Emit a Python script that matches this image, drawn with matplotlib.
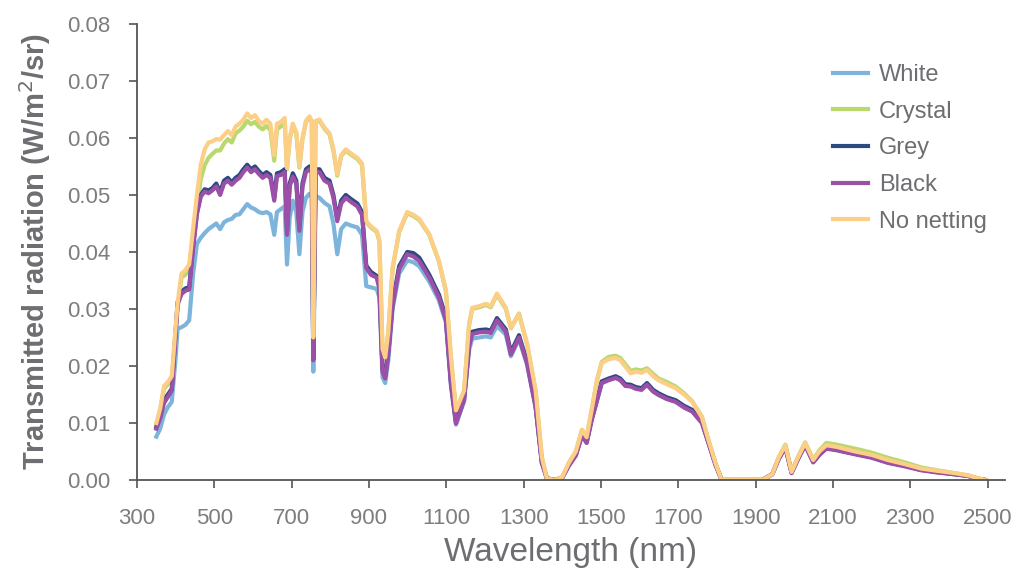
import matplotlib
matplotlib.use("Agg")
import matplotlib.pyplot as plt

# wavelength grid (nm) shared by all series
wl = [350, 360, 370, 380, 390, 400, 405, 415, 425, 435, 445, 455, 465, 475, 485, 495,
      505, 515, 525, 535, 545, 555, 565, 575, 585, 595, 605, 615, 625, 635, 645, 655,
      662, 672, 682, 688, 695, 703, 712, 720, 728, 737, 746, 752, 756, 762, 772, 785,
      798, 808, 818, 828, 840, 855, 870, 882, 893, 905, 920, 927, 935, 942, 950, 961,
      978, 999, 1015, 1030, 1056, 1081, 1099, 1112, 1125, 1146, 1159, 1167, 1185, 1203,
      1215, 1231, 1254, 1267, 1288, 1309, 1331, 1347, 1360, 1380, 1400, 1417, 1435, 1451,
      1463, 1476, 1490, 1502, 1520, 1538, 1550, 1563, 1577, 1590, 1605, 1619, 1635, 1649,
      1670, 1693, 1715, 1736, 1761, 1778, 1796, 1812, 1900, 1917, 1943, 1960, 1977, 1993,
      2010, 2028, 2049, 2065, 2083, 2110, 2157, 2200, 2242, 2285, 2328, 2370, 2415, 2450,
      2475, 2495]

no_netting = [.0100, .0125, .0165, .0172, .0182, .0270, .0310, .0362, .0368, .0378, .0440, .0500,
              .0553, .0580, .0592, .0594, .0598, .0597, .0605, .0612, .0605, .0620, .0625, .0632,
              .0643, .0635, .0640, .0630, .0625, .0632, .0625, .0570, .0625, .0628, .0635, .0547,
              .0600, .0625, .0610, .0550, .0600, .0630, .0638, .0630, .0250, .0630, .0632, .0618,
              .0608, .0580, .0536, .0570, .0580, .0572, .0565, .0555, .0454, .0445, .0437, .0420,
              .0230, .0215, .0260, .0372, .0437, .0470, .0465, .0458, .0431, .0384, .0332, .0215,
              .0122, .0157, .0274, .0302, .0305, .0309, .0305, .0327, .0302, .0267, .0291, .0239,
              .0157, .0040, .0003, .0000, .0005, .0030, .0050, .0088, .0075, .0123, .0175, .0205,
              .0212, .0214, .0210, .0199, .0187, .0190, .0188, .0193, .0182, .0175, .0168, .0161,
              .0150, .0137, .0110, .0070, .0030, .0000, .0000, .0000, .0010, .0040, .0061, .0014,
              .0040, .0065, .0035, .0050, .0061, .0058, .0050, .0044, .0035, .0028, .0020, .0016,
              .0012, .0008, .0003, .0000]

crystal = [.0098, .0122, .0160, .0168, .0178, .0262, .0300, .0355, .0360, .0370, .0430, .0478,
           .0528, .0552, .0565, .0572, .0578, .0578, .0590, .0598, .0592, .0608, .0613, .0620,
           .0630, .0624, .0628, .0620, .0615, .0621, .0614, .0560, .0615, .0620, .0628, .0545,
           .0598, .0622, .0608, .0548, .0598, .0628, .0636, .0628, .0248, .0628, .0630, .0616,
           .0606, .0578, .0534, .0568, .0578, .0570, .0563, .0553, .0452, .0443, .0435, .0418,
           .0228, .0213, .0258, .0370, .0435, .0468, .0463, .0456, .0430, .0383, .0331, .0214,
           .0121, .0156, .0272, .0300, .0303, .0307, .0303, .0325, .0300, .0266, .0292, .0238,
           .0156, .0040, .0003, .0000, .0005, .0030, .0050, .0088, .0075, .0123, .0176, .0207,
           .0216, .0218, .0214, .0203, .0191, .0194, .0192, .0196, .0186, .0178, .0172, .0164,
           .0152, .0138, .0111, .0070, .0030, .0000, .0000, .0000, .0010, .0040, .0062, .0015,
           .0041, .0066, .0036, .0052, .0065, .0062, .0055, .0048, .0039, .0031, .0022, .0017,
           .0012, .0008, .0003, .0000]

grey = [.0093, .0112, .0140, .0150, .0160, .0260, .0312, .0330, .0336, .0338, .0410, .0470,
        .0500, .0510, .0508, .0512, .0520, .0505, .0525, .0530, .0522, .0530, .0535, .0545,
        .0553, .0545, .0550, .0542, .0535, .0540, .0535, .0495, .0538, .0540, .0545, .0435,
        .0520, .0538, .0525, .0442, .0520, .0545, .0550, .0545, .0212, .0545, .0545, .0530,
        .0525, .0500, .0458, .0490, .0500, .0492, .0485, .0470, .0376, .0365, .0358, .0340,
        .0195, .0182, .0225, .0310, .0375, .0400, .0398, .0390, .0360, .0325, .0285, .0172,
        .0102, .0143, .0238, .0260, .0263, .0264, .0262, .0284, .0264, .0224, .0254, .0207,
        .0131, .0032, .0003, .0000, .0004, .0027, .0045, .0080, .0067, .0108, .0143, .0173,
        .0178, .0182, .0178, .0168, .0167, .0163, .0161, .0170, .0158, .0152, .0145, .0140,
        .0130, .0123, .0103, .0066, .0028, .0000, .0000, .0000, .0010, .0038, .0058, .0013,
        .0038, .0062, .0032, .0045, .0056, .0053, .0046, .0040, .0031, .0025, .0018, .0014,
        .0010, .0007, .0002, .0000]

black = [.0090, .0108, .0135, .0146, .0157, .0255, .0308, .0326, .0332, .0334, .0405, .0466,
         .0497, .0506, .0503, .0508, .0515, .0500, .0520, .0525, .0518, .0525, .0530, .0540,
         .0548, .0540, .0545, .0537, .0530, .0535, .0530, .0490, .0533, .0535, .0540, .0430,
         .0515, .0532, .0520, .0437, .0515, .0540, .0545, .0540, .0210, .0540, .0540, .0525,
         .0520, .0495, .0454, .0485, .0495, .0487, .0480, .0465, .0372, .0360, .0355, .0335,
         .0190, .0178, .0220, .0305, .0370, .0396, .0392, .0384, .0355, .0320, .0280, .0168,
         .0099, .0140, .0235, .0256, .0259, .0260, .0258, .0280, .0260, .0220, .0250, .0204,
         .0128, .0030, .0003, .0000, .0004, .0025, .0043, .0078, .0065, .0105, .0140, .0170,
         .0175, .0179, .0175, .0165, .0164, .0160, .0158, .0167, .0155, .0149, .0142, .0137,
         .0127, .0120, .0100, .0065, .0027, .0000, .0000, .0000, .0010, .0037, .0057, .0012,
         .0037, .0061, .0031, .0044, .0055, .0052, .0045, .0039, .0030, .0024, .0017, .0013,
         .0010, .0007, .0002, .0000]

white = [.0076, .0090, .0115, .0128, .0137, .0215, .0265, .0268, .0272, .0280, .0360, .0414,
         .0425, .0433, .0440, .0445, .0450, .0440, .0452, .0456, .0458, .0465, .0466, .0475,
         .0484, .0478, .0475, .0470, .0468, .0470, .0466, .0430, .0470, .0475, .0480, .0378,
         .0460, .0490, .0470, .0396, .0470, .0495, .0502, .0498, .0190, .0498, .0495, .0486,
         .0480, .0450, .0396, .0440, .0450, .0446, .0443, .0430, .0340, .0338, .0335, .0320,
         .0180, .0170, .0210, .0300, .0362, .0385, .0382, .0375, .0348, .0315, .0276, .0165,
         .0097, .0138, .0228, .0248, .0250, .0252, .0250, .0270, .0255, .0217, .0247, .0202,
         .0127, .0030, .0003, .0000, .0004, .0025, .0043, .0078, .0065, .0105, .0140, .0170,
         .0176, .0180, .0176, .0166, .0165, .0161, .0160, .0168, .0156, .0151, .0144, .0139,
         .0129, .0121, .0101, .0065, .0027, .0000, .0000, .0000, .0010, .0037, .0057, .0012,
         .0037, .0061, .0031, .0045, .0056, .0053, .0046, .0040, .0031, .0025, .0018, .0014,
         .0010, .0007, .0002, .0000]

series = [("White", white, "#7db4db"),
          ("Crystal", crystal, "#b9d86e"),
          ("Grey", grey, "#2c4a82"),
          ("Black", black, "#9b4fa7"),
          ("No netting", no_netting, "#fcce86")]

xticks = list(range(300, 2501, 200))
yticks = [0.00, 0.01, 0.02, 0.03, 0.04, 0.05, 0.06, 0.07, 0.08]

plt.rcParams['font.family'] = ['Liberation Sans', 'DejaVu Sans']

fig = plt.figure(figsize=(10.17, 5.78), dpi=100)
ax = fig.add_axes([0.1347, 0.1696, 0.8535, 0.789])

for name, vals, col in series:
    ax.plot(wl, vals, color=col, lw=3.0, label=name, solid_joinstyle='round')

ax.set_xlim(300, 2545)
ax.set_ylim(0, 0.08)
ax.set_xticks(xticks)
ax.set_yticks(yticks)
ax.set_yticklabels([f"{v:.2f}" for v in yticks])

axis_col = '#555555'
for side in ['top', 'right']:
    ax.spines[side].set_visible(False)
for side in ['left', 'bottom']:
    ax.spines[side].set_color(axis_col)
    ax.spines[side].set_linewidth(1.3)
ax.tick_params(axis='both', direction='out', length=6, width=1.2, color=axis_col,
               labelsize=16, labelcolor='#7d7d7f')
ax.tick_params(axis='x', pad=14)
ax.tick_params(axis='y', pad=13)

ax.set_xlabel("Wavelength (nm)", fontsize=24, color='#6d6e71', labelpad=6)
ax.set_ylabel("Transmitted radiation (W/m$^2$/sr)", fontsize=21, fontweight='bold',
              color='#6d6e71', labelpad=10)

leg = ax.legend(loc='upper left', bbox_to_anchor=(833 / 1017, 1 - 64 / 578),
                bbox_transform=fig.transFigure, frameon=False, fontsize=17,
                handlelength=1.5, handletextpad=0.45, labelspacing=0.62,
                borderpad=0, borderaxespad=0)
for t in leg.get_texts():
    t.set_color('#6d6e71')
for h in leg.get_lines():
    h.set_linewidth(3)

fig.savefig("out.png", dpi=100)
